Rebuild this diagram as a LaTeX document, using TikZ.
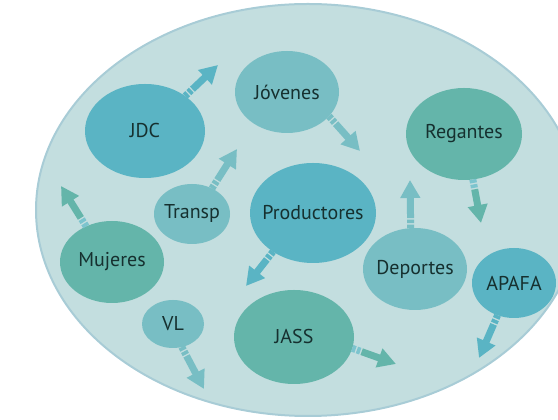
\documentclass[tikz,border=0pt]{standalone}
\usepackage{fontspec}
\setmainfont{PT Sans}
\usetikzlibrary{arrows.meta,shapes.geometric}
\definecolor{bg}{HTML}{C3DEDF}
\definecolor{bgline}{HTML}{A8CCD6}
\definecolor{cblue}{HTML}{5AB4C4}
\definecolor{clight}{HTML}{78BEC4}
\definecolor{cgreen}{HTML}{64B5AA}
\definecolor{cstripe}{HTML}{7CC4CE}
\definecolor{ctext}{HTML}{16302F}
\newcommand\flecha[4]{%
  \draw[line width=7pt, #3, dash pattern=on 300pt off 10pt, dash phase=300pt,
        -{Triangle[width=19pt,length=18pt]}] #1 -- #2;
  \draw[line width=7pt, #4, dash pattern=on 3.5pt off 1.5pt on 3.5pt off 300pt] #1 -- #2;
}
\newcommand\ztext[1]{\makebox[0pt]{#1}}
\begin{document}
\begin{tikzpicture}[x=1pt,y=1pt,
  bubble/.style={ellipse, inner sep=0pt, outer sep=0pt, text=ctext,
    font=\fontsize{20}{22}\selectfont},
  bblue/.style={bubble, fill=cblue},
  blight/.style={bubble, fill=clight},
  bgreen/.style={bubble, fill=cgreen}]
\useasboundingbox (0,0) rectangle (558,420);
\clip (0,0) rectangle (558,420);
\fill[bg, draw=bgline, line width=2pt] (308,210) ellipse [x radius=272, y radius=206];

\node[bblue, minimum width=120pt, minimum height=94pt] (jdc) at (145,289) {\ztext{JDC}};
\node[blight, minimum width=104pt, minimum height=82pt] (jov) at (287,328) {\ztext{Jóvenes}};
\node[bgreen, minimum width=116pt, minimum height=92pt] (reg) at (464,286) {\ztext{Regantes}};
\node[blight, minimum width=76pt, minimum height=60pt] (tra) at (192,206) {\ztext{Transp}};
\node[bblue, minimum width=126pt, minimum height=100pt] (pro) at (313,207) {\ztext{Productores}};
\node[bgreen, minimum width=104pt, minimum height=82pt] (muj) at (112,158) {\ztext{Mujeres}};
\node[blight, minimum width=104pt, minimum height=82pt] (dep) at (415,151) {\ztext{Deportes}};
\node[bblue, minimum width=84pt, minimum height=70pt] (apa) at (514,137) {\ztext{APAFA}};
\node[blight, minimum width=62pt, minimum height=48pt] (vl) at (173,96) {\ztext{VL}};
\node[bgreen, minimum width=120pt, minimum height=94pt] (jass) at (294,83) {\ztext{JASS}};

\coordinate (e1) at (218,355);
\coordinate (e2) at (360,269);
\coordinate (e3) at (237,271);
\coordinate (e4) at (61,234);
\coordinate (e5) at (246,134);
\coordinate (e6) at (481,197);
\coordinate (e7) at (410,240);
\coordinate (e8) at (479,62);
\coordinate (e9) at (204,31);
\coordinate (e10) at (396,56);

\flecha{(jdc.41)}{(e1)}{cblue}{cblue}
\flecha{(jov.-30)}{(e2)}{clight}{clight}
\flecha{(tra.52)}{(e3)}{clight}{clight}
\flecha{(muj.126)}{(e4)}{cgreen}{cstripe}
\flecha{(pro.-136)}{(e5)}{cblue}{cblue}
\flecha{(reg.-79)}{(e6)}{cgreen}{cstripe}
\flecha{(dep.96)}{(e7)}{clight}{clight}
\flecha{(apa.-117)}{(e8)}{cblue}{cblue}
\flecha{(vl.-69)}{(e9)}{clight}{clight}
\flecha{(jass.-11)}{(e10)}{cgreen}{cstripe}
\end{tikzpicture}
\end{document}
